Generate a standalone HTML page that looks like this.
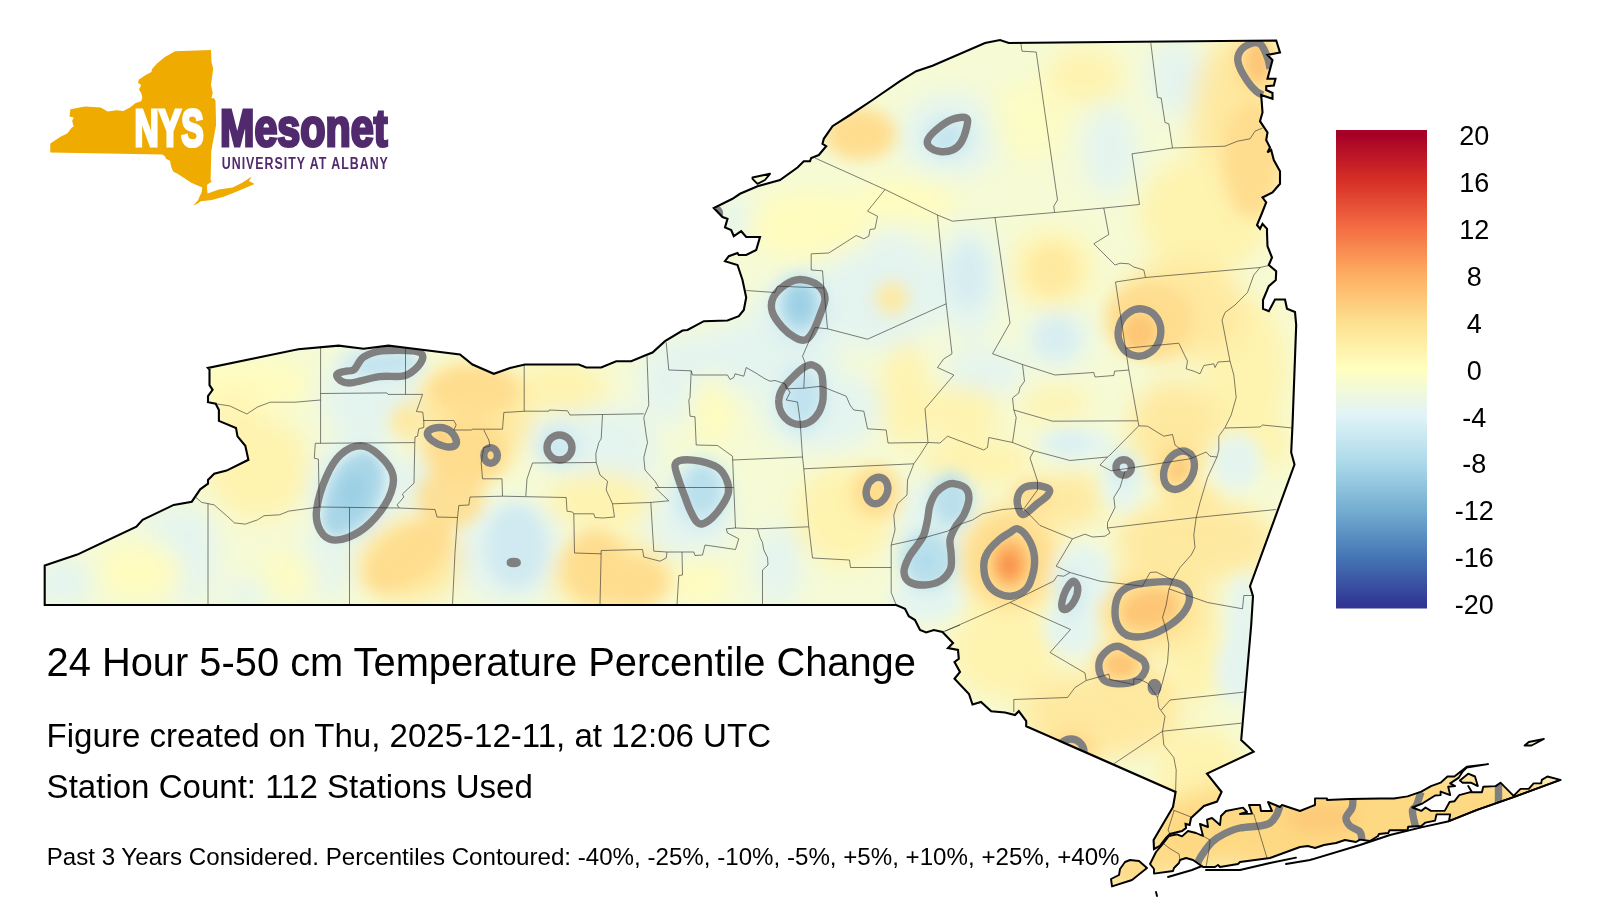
<!DOCTYPE html><html><head><meta charset="utf-8"><title>NYS Mesonet</title>
<style>html,body{margin:0;padding:0;background:#fff}svg{display:block}text{font-family:"Liberation Sans",Arial,Helvetica,sans-serif}</style></head><body>
<svg width="1600" height="900" viewBox="0 0 1600 900">
<defs>
<clipPath id="st"><path d="M44.7,605.0 L44.7,565.5 L77.3,554.6 L136.4,526.6 L142.6,519.8 L173.7,504.9 L191.8,501.7 L200.2,489.3 L208.0,483.7 L208.0,480.0 L214.2,473.7 L226.6,470.6 L248.4,459.8 L245.3,445.8 L237.5,436.4 L236.0,428.0 L218.9,420.9 L218.9,410.0 L215.7,403.8 L208.0,402.2 L208.0,396.0 L212.6,389.8 L209.5,385.1 L209.5,369.5 L208.0,368.0 L298.2,349.3 L338.6,345.6 L363.5,348.7 L388.4,345.6 L400.0,347.0 L460.0,354.5 L472.5,364.5 L493.8,373.8 L510.0,368.0 L525.0,364.5 L578.8,364.5 L586.2,367.5 L601.2,367.5 L616.2,361.2 L631.2,361.2 L646.2,355.0 L652.5,352.5 L665.0,341.2 L682.5,330.5 L687.5,330.0 L703.8,321.2 L727.5,320.5 L738.8,316.2 L743.8,310.0 L746.2,297.5 L742.5,280.0 L737.5,265.0 L725.0,261.2 L728.8,256.2 L737.5,253.0 L738.8,255.0 L746.2,255.0 L756.2,250.0 L760.0,237.0 L746.2,237.0 L741.2,231.2 L733.8,236.2 L731.2,230.0 L725.0,227.5 L727.5,218.8 L722.5,217.0 L713.8,208.0 L732.5,198.8 L740.0,193.8 L757.5,186.2 L780.0,180.0 L797.5,167.5 L803.8,161.2 L810.0,161.2 L811.2,158.0 L818.8,155.0 L826.2,146.2 L822.5,143.8 L823.8,138.8 L832.5,126.2 L850.0,115.0 L872.5,100.0 L900.0,81.2 L916.2,71.2 L932.5,65.8 L985.0,43.0 L1000.0,40.0 L1008.8,43.0 L1276.2,40.5 L1280.0,52.5 L1267.5,55.0 L1272.5,60.0 L1267.5,78.8 L1275.5,78.8 L1273.8,85.5 L1266.2,86.2 L1266.2,90.0 L1272.5,93.0 L1272.5,98.8 L1261.2,95.0 L1262.5,112.5 L1260.0,121.2 L1267.5,132.5 L1266.2,140.0 L1270.0,147.5 L1267.5,152.5 L1271.2,150.0 L1273.8,160.0 L1280.0,171.2 L1280.0,183.8 L1272.5,192.5 L1262.5,197.5 L1266.2,202.5 L1261.2,215.0 L1257.0,225.0 L1260.0,228.8 L1262.5,223.8 L1267.0,228.8 L1267.0,232.5 L1267.5,246.2 L1272.0,257.5 L1268.8,265.0 L1276.2,271.2 L1275.8,280.0 L1268.8,286.2 L1263.0,300.0 L1263.0,308.8 L1268.8,311.2 L1275.0,299.5 L1285.0,299.5 L1287.0,308.8 L1295.0,312.0 L1296.2,325.0 L1292.5,425.0 L1291.2,452.5 L1294.5,464.5 L1250.0,586.2 L1253.0,596.2 L1251.2,625.0 L1241.2,740.0 L1253.6,751.6 L1207.0,773.6 L1221.6,792.0 L1217.0,801.6 L1204.0,806.0 L1191.0,818.0 L1189.6,825.0 L1185.6,824.0 L1186.0,828.0 L1182.0,831.0 L1170.0,834.0 L1166.0,838.0 L1160.0,846.0 L1154.0,849.0 L1153.6,840.0 L1173.0,807.0 L1175.6,792.0 L1026.2,726.2 L1026.2,721.2 L1018.8,711.2 L1015.0,715.0 L1005.0,712.5 L991.2,711.2 L981.0,702.0 L972.5,704.5 L969.0,694.0 L954.5,678.8 L960.0,672.0 L954.5,662.0 L958.8,658.8 L958.0,650.0 L948.0,648.0 L953.0,643.0 L942.5,632.0 L933.8,630.0 L926.2,632.5 L920.0,630.0 L915.0,620.0 L908.8,616.2 L905.0,608.8 L896.2,605.0 Z M1150.0,864.0 L1156.0,852.0 L1162.0,845.0 L1169.0,836.0 L1177.0,834.4 L1182.0,836.4 L1188.0,831.0 L1196.0,833.0 L1203.0,836.0 L1200.0,824.0 L1208.0,827.0 L1207.0,819.6 L1212.0,818.0 L1220.0,825.0 L1221.0,816.0 L1226.0,811.0 L1243.0,807.6 L1247.0,812.0 L1240.0,814.0 L1252.0,813.6 L1249.0,805.0 L1260.0,805.0 L1261.0,811.0 L1272.0,811.0 L1268.0,802.0 L1280.0,807.0 L1282.0,805.0 L1300.0,811.0 L1315.0,805.0 L1315.0,798.4 L1327.0,798.4 L1327.0,800.0 L1350.0,799.0 L1380.0,798.5 L1393.8,798.5 L1407.5,796.4 L1421.3,791.6 L1431.0,786.1 L1440.6,782.7 L1447.5,776.5 L1454.4,776.5 L1466.8,766.8 L1488.1,764.1 L1466.8,767.5 L1462.6,771.7 L1458.5,777.9 L1450.2,783.4 L1455.1,786.1 L1448.2,786.8 L1450.2,795.1 L1440.6,791.6 L1440.6,795.1 L1435.1,795.5 L1422.7,803.3 L1412.4,807.5 L1421.3,810.9 L1425.5,807.5 L1431.0,810.9 L1444.7,810.9 L1449.6,802.0 L1454.4,801.3 L1459.2,795.1 L1469.5,792.3 L1481.9,792.3 L1483.3,786.8 L1495.7,786.1 L1500.5,782.7 L1513.6,795.8 L1520.5,788.9 L1528.8,788.9 L1533.6,783.4 L1541.2,783.4 L1541.8,779.9 L1547.4,776.5 L1560.4,779.9 L1513.6,797.1 L1476.4,810.2 L1448.9,821.2 L1450.2,814.4 L1436.5,814.4 L1435.1,820.6 L1425.5,822.6 L1421.3,826.0 L1408.2,826.7 L1407.5,830.2 L1389.6,830.2 L1388.3,833.0 L1379.0,834.0 L1378.0,836.0 L1370.0,841.0 L1360.0,839.6 L1356.0,842.0 L1345.0,840.0 L1336.0,843.0 L1324.0,845.0 L1315.0,848.0 L1308.0,846.0 L1300.0,847.0 L1270.0,858.0 L1240.0,862.0 L1238.0,864.0 L1220.0,867.0 L1218.0,865.0 L1215.0,867.0 L1203.0,867.0 L1193.0,860.0 L1186.0,858.0 L1180.0,860.0 L1179.0,863.0 L1174.0,868.0 L1173.0,871.0 L1154.0,873.6 L1154.0,869.0 Z M1111.0,879.0 L1119.0,875.0 L1120.0,869.0 L1125.0,862.0 L1130.0,860.0 L1139.0,861.0 L1147.0,868.0 L1132.0,880.0 L1112.0,886.4 Z M1459.9,780.6 L1468.2,773.7 L1475.0,776.5 L1477.8,786.1 L1470.9,782.7 L1462.6,782.7 Z M1524.6,745.5 L1528.8,742.0 L1543.9,739.0 L1531.5,745.5 Z M752.5,177.5 L770.0,173.8 L765.0,180.0 L757.5,183.8 L752.5,178.8 Z"/></clipPath>
<filter id="blA" x="-10%" y="-10%" width="120%" height="120%"><feGaussianBlur stdDeviation="12"/></filter>
<filter id="blB" x="-10%" y="-10%" width="120%" height="120%"><feGaussianBlur stdDeviation="8"/></filter>
<filter id="blC" x="-10%" y="-10%" width="120%" height="120%"><feGaussianBlur stdDeviation="5.5"/></filter>
<linearGradient id="cb" x1="0" y1="0" x2="0" y2="1">
<stop offset="0.0086" stop-color="rgb(165, 0, 38)"/>
<stop offset="0.1069" stop-color="rgb(215, 48, 39)"/>
<stop offset="0.2052" stop-color="rgb(244, 109, 67)"/>
<stop offset="0.3034" stop-color="rgb(253, 174, 97)"/>
<stop offset="0.4017" stop-color="rgb(254, 224, 144)"/>
<stop offset="0.5000" stop-color="rgb(255, 255, 191)"/>
<stop offset="0.5983" stop-color="rgb(224, 243, 248)"/>
<stop offset="0.6966" stop-color="rgb(171, 217, 233)"/>
<stop offset="0.7948" stop-color="rgb(116, 173, 209)"/>
<stop offset="0.8931" stop-color="rgb(69, 117, 180)"/>
<stop offset="0.9914" stop-color="rgb(49, 54, 149)"/>
</linearGradient>
</defs>
<rect width="1600" height="900" fill="#fff"/>
<g clip-path="url(#st)"><rect x="0" y="0" width="1600" height="900" fill="#f6fbd6"/>
<g filter="url(#blA)">
<ellipse cx="190" cy="555" rx="28" ry="50" fill="rgb(228, 244, 239)" opacity="1"/>
<ellipse cx="62" cy="582" rx="32" ry="24" fill="rgb(228, 244, 239)" opacity="1"/>
<ellipse cx="170" cy="522" rx="35" ry="16" fill="rgb(228, 244, 239)" opacity="0.8"/>
<ellipse cx="322" cy="566" rx="30" ry="34" fill="rgb(228, 244, 239)" opacity="1"/>
<ellipse cx="247" cy="594" rx="25" ry="14" fill="rgb(228, 244, 239)" opacity="1"/>
<ellipse cx="370" cy="395" rx="50" ry="45" fill="rgb(228, 244, 239)" opacity="1"/>
<ellipse cx="355" cy="490" rx="45" ry="55" fill="rgb(228, 244, 239)" opacity="1"/>
<ellipse cx="420" cy="482" rx="22" ry="30" fill="rgb(228, 244, 239)" opacity="1"/>
<ellipse cx="580" cy="440" rx="48" ry="36" fill="rgb(228, 244, 239)" opacity="1"/>
<ellipse cx="628" cy="455" rx="30" ry="50" fill="rgb(228, 244, 239)" opacity="1"/>
<ellipse cx="510" cy="552" rx="56" ry="52" fill="rgb(228, 244, 239)" opacity="1"/>
<ellipse cx="690" cy="380" rx="52" ry="46" fill="rgb(228, 244, 239)" opacity="1"/>
<ellipse cx="690" cy="520" rx="44" ry="40" fill="rgb(228, 244, 239)" opacity="1"/>
<ellipse cx="735" cy="360" rx="46" ry="36" fill="rgb(228, 244, 239)" opacity="1"/>
<ellipse cx="790" cy="340" rx="50" ry="55" fill="rgb(228, 244, 239)" opacity="1"/>
<ellipse cx="820" cy="410" rx="62" ry="42" fill="rgb(228, 244, 239)" opacity="1"/>
<ellipse cx="740" cy="220" rx="26" ry="22" fill="rgb(228, 244, 239)" opacity="1"/>
<ellipse cx="880" cy="290" rx="64" ry="62" fill="rgb(228, 244, 239)" opacity="1"/>
<ellipse cx="950" cy="135" rx="52" ry="42" fill="rgb(228, 244, 239)" opacity="1"/>
<ellipse cx="970" cy="282" rx="32" ry="58" fill="rgb(228, 244, 239)" opacity="1"/>
<ellipse cx="985" cy="372" rx="42" ry="24" fill="rgb(228, 244, 239)" opacity="1"/>
<ellipse cx="1058" cy="338" rx="34" ry="32" fill="rgb(228, 244, 239)" opacity="1"/>
<ellipse cx="1110" cy="150" rx="28" ry="46" fill="rgb(228, 244, 239)" opacity="1"/>
<ellipse cx="1176" cy="78" rx="28" ry="40" fill="rgb(228, 244, 239)" opacity="1"/>
<ellipse cx="778" cy="565" rx="24" ry="42" fill="rgb(228, 244, 239)" opacity="1"/>
<ellipse cx="940" cy="535" rx="44" ry="64" fill="rgb(228, 244, 239)" opacity="1"/>
<ellipse cx="140" cy="572" rx="44" ry="26" fill="rgb(255, 252, 190)" opacity="1"/>
<ellipse cx="290" cy="575" rx="30" ry="25" fill="rgb(255, 252, 190)" opacity="0.8"/>
<ellipse cx="250" cy="385" rx="62" ry="26" fill="rgb(255, 252, 190)" opacity="1"/>
<ellipse cx="258" cy="468" rx="52" ry="52" fill="rgb(254, 243, 175)" opacity="1"/>
<ellipse cx="232" cy="408" rx="24" ry="14" fill="rgb(254, 243, 175)" opacity="1"/>
<ellipse cx="560" cy="388" rx="48" ry="26" fill="rgb(254, 243, 175)" opacity="1"/>
<ellipse cx="600" cy="500" rx="54" ry="28" fill="rgb(254, 243, 175)" opacity="1"/>
<ellipse cx="712" cy="410" rx="22" ry="34" fill="rgb(255, 252, 190)" opacity="1"/>
<ellipse cx="700" cy="580" rx="26" ry="26" fill="rgb(255, 252, 190)" opacity="1"/>
<ellipse cx="810" cy="225" rx="64" ry="34" fill="rgb(255, 252, 190)" opacity="1"/>
<ellipse cx="905" cy="200" rx="52" ry="20" fill="rgb(255, 252, 190)" opacity="1"/>
<ellipse cx="1030" cy="120" rx="40" ry="40" fill="rgb(255, 252, 190)" opacity="0.7"/>
<ellipse cx="1052" cy="270" rx="42" ry="40" fill="rgb(254, 243, 175)" opacity="1"/>
<ellipse cx="1085" cy="76" rx="38" ry="28" fill="rgb(254, 243, 175)" opacity="1"/>
<ellipse cx="1236" cy="120" rx="44" ry="85" fill="rgb(254, 233, 160)" opacity="1"/>
<ellipse cx="1205" cy="215" rx="66" ry="60" fill="rgb(254, 243, 175)" opacity="1"/>
<ellipse cx="1245" cy="370" rx="42" ry="75" fill="rgb(254, 243, 175)" opacity="1"/>
<ellipse cx="1180" cy="310" rx="66" ry="50" fill="rgb(254, 233, 160)" opacity="1"/>
<ellipse cx="1175" cy="430" rx="46" ry="50" fill="rgb(254, 233, 160)" opacity="1"/>
<ellipse cx="960" cy="412" rx="40" ry="26" fill="rgb(254, 243, 175)" opacity="1"/>
<ellipse cx="905" cy="395" rx="24" ry="54" fill="rgb(254, 243, 175)" opacity="1"/>
<ellipse cx="978" cy="462" rx="58" ry="24" fill="rgb(254, 243, 175)" opacity="1"/>
<ellipse cx="1055" cy="405" rx="36" ry="22" fill="rgb(254, 243, 175)" opacity="0.8"/>
<ellipse cx="845" cy="515" rx="50" ry="50" fill="rgb(254, 243, 175)" opacity="1"/>
<ellipse cx="1010" cy="560" rx="54" ry="58" fill="rgb(254, 233, 160)" opacity="1"/>
<ellipse cx="1070" cy="500" rx="34" ry="28" fill="rgb(254, 233, 160)" opacity="1"/>
<ellipse cx="1195" cy="540" rx="80" ry="42" fill="rgb(254, 233, 160)" opacity="1"/>
<ellipse cx="1272" cy="445" rx="18" ry="26" fill="rgb(254, 243, 175)" opacity="1"/>
<ellipse cx="1005" cy="650" rx="54" ry="50" fill="rgb(254, 243, 175)" opacity="1"/>
<ellipse cx="1195" cy="660" rx="32" ry="44" fill="rgb(254, 243, 175)" opacity="1"/>
<ellipse cx="1150" cy="610" rx="66" ry="46" fill="rgb(254, 233, 160)" opacity="1"/>
<ellipse cx="1100" cy="715" rx="80" ry="44" fill="rgb(254, 233, 160)" opacity="1"/>
<ellipse cx="1200" cy="770" rx="44" ry="44" fill="rgb(254, 243, 175)" opacity="1"/>
<ellipse cx="1172" cy="822" rx="24" ry="26" fill="rgb(254, 233, 160)" opacity="1"/>
<ellipse cx="470" cy="420" rx="60" ry="55" fill="rgb(254, 233, 160)" opacity="1"/>
<ellipse cx="410" cy="560" rx="52" ry="42" fill="rgb(254, 233, 160)" opacity="1"/>
<ellipse cx="610" cy="575" rx="60" ry="36" fill="rgb(254, 233, 160)" opacity="1"/>
<ellipse cx="1395" cy="826" rx="250" ry="56" fill="rgb(254, 217, 131)" opacity="1"/>
<ellipse cx="1185" cy="852" rx="40" ry="24" fill="rgb(254, 217, 131)" opacity="1"/>
<ellipse cx="1130" cy="872" rx="30" ry="22" fill="rgb(254, 217, 131)" opacity="1"/>
</g>
<g filter="url(#blB)">
<ellipse cx="1082" cy="578" rx="30" ry="34" fill="rgb(228, 244, 239)" opacity="1"/>
<ellipse cx="1072" cy="628" rx="28" ry="28" fill="rgb(228, 244, 239)" opacity="1"/>
<ellipse cx="925" cy="600" rx="36" ry="22" fill="rgb(228, 244, 239)" opacity="1"/>
<ellipse cx="1243" cy="635" rx="16" ry="62" fill="rgb(228, 244, 239)" opacity="1"/>
<ellipse cx="1238" cy="670" rx="22" ry="34" fill="rgb(228, 244, 239)" opacity="1"/>
<ellipse cx="1237" cy="462" rx="24" ry="28" fill="rgb(228, 244, 239)" opacity="1"/>
<ellipse cx="1122" cy="482" rx="20" ry="28" fill="rgb(228, 244, 239)" opacity="1"/>
<ellipse cx="1075" cy="444" rx="38" ry="18" fill="rgb(228, 244, 239)" opacity="1"/>
<ellipse cx="383" cy="364" rx="42" ry="15" fill="rgb(206, 233, 241)" opacity="1"/>
<ellipse cx="354" cy="492" rx="32" ry="48" fill="rgb(206, 233, 241)" opacity="1" transform="rotate(24 354 492)"/>
<ellipse cx="558" cy="446" rx="20" ry="20" fill="rgb(206, 233, 241)" opacity="1"/>
<ellipse cx="516" cy="546" rx="30" ry="42" fill="rgb(206, 233, 241)" opacity="0.9"/>
<ellipse cx="702" cy="492" rx="28" ry="36" fill="rgb(206, 233, 241)" opacity="1"/>
<ellipse cx="802" cy="400" rx="24" ry="34" fill="rgb(206, 233, 241)" opacity="1"/>
<ellipse cx="800" cy="306" rx="28" ry="36" fill="rgb(206, 233, 241)" opacity="1"/>
<ellipse cx="948" cy="137" rx="24" ry="20" fill="rgb(206, 233, 241)" opacity="1"/>
<ellipse cx="968" cy="275" rx="20" ry="32" fill="rgb(206, 233, 241)" opacity="0.6"/>
<ellipse cx="1056" cy="338" rx="20" ry="20" fill="rgb(206, 233, 241)" opacity="0.6"/>
<ellipse cx="951" cy="500" rx="20" ry="27" fill="rgb(186, 224, 236)" opacity="1"/>
<ellipse cx="928" cy="560" rx="27" ry="29" fill="rgb(186, 224, 236)" opacity="1"/>
<ellipse cx="1070" cy="595" rx="12" ry="22" fill="rgb(206, 233, 241)" opacity="1"/>
<ellipse cx="1122" cy="466" rx="15" ry="15" fill="rgb(206, 233, 241)" opacity="0.9"/>
<ellipse cx="1068" cy="443" rx="18" ry="10" fill="rgb(206, 233, 241)" opacity="0.5"/>
<ellipse cx="406" cy="421" rx="16" ry="16" fill="rgb(254, 233, 160)" opacity="1"/>
<ellipse cx="474" cy="390" rx="46" ry="24" fill="rgb(254, 221, 143)" opacity="1"/>
<ellipse cx="467" cy="452" rx="40" ry="34" fill="rgb(254, 221, 143)" opacity="1"/>
<ellipse cx="450" cy="498" rx="34" ry="30" fill="rgb(254, 221, 143)" opacity="0.9"/>
<ellipse cx="408" cy="556" rx="50" ry="26" fill="rgb(254, 221, 143)" opacity="1" transform="rotate(-35 408 556)"/>
<ellipse cx="595" cy="566" rx="30" ry="36" fill="rgb(254, 221, 143)" opacity="1"/>
<ellipse cx="632" cy="582" rx="36" ry="24" fill="rgb(254, 221, 143)" opacity="1"/>
<ellipse cx="892" cy="298" rx="16" ry="16" fill="rgb(254, 233, 160)" opacity="1"/>
<ellipse cx="860" cy="134" rx="36" ry="26" fill="rgb(254, 221, 143)" opacity="1"/>
<ellipse cx="1052" cy="270" rx="24" ry="24" fill="rgb(254, 233, 160)" opacity="1"/>
<ellipse cx="1252" cy="160" rx="30" ry="58" fill="rgb(254, 221, 143)" opacity="1"/>
<ellipse cx="1256" cy="62" rx="22" ry="32" fill="rgb(254, 221, 143)" opacity="1"/>
<ellipse cx="1150" cy="320" rx="44" ry="38" fill="rgb(254, 221, 143)" opacity="1"/>
<ellipse cx="876" cy="492" rx="24" ry="26" fill="rgb(254, 221, 143)" opacity="1"/>
<ellipse cx="1033" cy="496" rx="20" ry="16" fill="rgb(254, 221, 143)" opacity="1"/>
<ellipse cx="1176" cy="468" rx="20" ry="26" fill="rgb(254, 221, 143)" opacity="1"/>
<ellipse cx="1190" cy="502" rx="28" ry="20" fill="rgb(254, 233, 160)" opacity="1"/>
<ellipse cx="1010" cy="560" rx="42" ry="46" fill="rgb(254, 221, 143)" opacity="1"/>
<ellipse cx="1148" cy="609" rx="42" ry="30" fill="rgb(254, 221, 143)" opacity="1"/>
<ellipse cx="1121" cy="664" rx="28" ry="22" fill="rgb(254, 221, 143)" opacity="1"/>
<ellipse cx="1150" cy="695" rx="24" ry="24" fill="rgb(254, 233, 160)" opacity="1"/>
<ellipse cx="1072" cy="748" rx="26" ry="20" fill="rgb(254, 221, 143)" opacity="1"/>
<ellipse cx="1322" cy="818" rx="36" ry="15" fill="rgb(253, 198, 118)" opacity="0.8"/>
</g>
<g filter="url(#blC)">
<ellipse cx="354" cy="492" rx="24" ry="40" fill="rgb(168, 214, 231)" opacity="1" transform="rotate(24 354 492)"/>
<ellipse cx="336" cy="520" rx="13" ry="16" fill="rgb(168, 214, 231)" opacity="0.9"/>
<ellipse cx="352" cy="492" rx="12" ry="18" fill="rgb(150, 204, 227)" opacity="0.6" transform="rotate(22 352 492)"/>
<ellipse cx="385" cy="364" rx="30" ry="8" fill="rgb(186, 224, 236)" opacity="0.6" transform="rotate(-8 385 364)"/>
<ellipse cx="441" cy="437" rx="9" ry="5" fill="rgb(253, 198, 118)" opacity="0.9" transform="rotate(25 441 437)"/>
<ellipse cx="490.5" cy="455.5" rx="5" ry="6" fill="rgb(253, 198, 118)" opacity="0.9"/>
<ellipse cx="702" cy="490" rx="16" ry="22" fill="rgb(186, 224, 236)" opacity="1"/>
<ellipse cx="800" cy="305" rx="17" ry="23" fill="rgb(168, 214, 231)" opacity="1"/>
<ellipse cx="800" cy="304" rx="9" ry="12" fill="rgb(150, 204, 227)" opacity="0.7"/>
<ellipse cx="803" cy="396" rx="13" ry="22" fill="rgb(186, 224, 236)" opacity="0.7"/>
<ellipse cx="947" cy="138" rx="11" ry="8" fill="rgb(186, 224, 236)" opacity="0.5" transform="rotate(-35 947 138)"/>
<ellipse cx="1258" cy="62" rx="11" ry="20" fill="rgb(253, 198, 118)" opacity="1"/>
<ellipse cx="1139.5" cy="332.5" rx="16" ry="18" fill="rgb(253, 198, 118)" opacity="1"/>
<ellipse cx="1179" cy="470" rx="8" ry="13" fill="rgb(253, 198, 118)" opacity="0.8" transform="rotate(25 1179 470)"/>
<ellipse cx="927" cy="560" rx="15" ry="16" fill="rgb(186, 224, 236)" opacity="1"/>
<ellipse cx="926" cy="562" rx="8" ry="9" fill="rgb(168, 214, 231)" opacity="0.6"/>
<ellipse cx="952" cy="500" rx="10" ry="15" fill="rgb(186, 224, 236)" opacity="0.7"/>
<ellipse cx="1010" cy="563" rx="19" ry="24" fill="rgb(253, 184, 104)" opacity="1"/>
<ellipse cx="1009" cy="565" rx="10" ry="13" fill="rgb(249, 148, 78)" opacity="1"/>
<ellipse cx="1150" cy="609" rx="28" ry="18" fill="rgb(253, 198, 118)" opacity="1" transform="rotate(-15 1150 609)"/>
<ellipse cx="1121" cy="665" rx="16" ry="12" fill="rgb(253, 198, 118)" opacity="1"/>
<ellipse cx="1071" cy="752" rx="8" ry="8" fill="rgb(253, 198, 118)" opacity="0.8"/>
</g>
</g>
<g clip-path="url(#st)"><g fill="none" stroke="#808080" stroke-width="7.4" stroke-linecap="butt" stroke-linejoin="round">
<path d="M360.4,445.8 C366.9,445.8 373.6,450.1 379.0,455.0 C384.4,459.9 391.4,468.0 393.0,475.3 C394.6,482.6 392.3,490.6 388.4,498.6 C384.5,506.6 376.4,517.0 369.7,523.5 C363.0,530.0 354.7,534.9 348.0,537.5 C341.3,540.1 334.2,540.8 329.3,539.0 C324.4,537.2 320.5,531.8 318.4,526.6 C316.3,521.4 315.5,516.3 316.8,508.0 C318.1,499.7 322.3,485.7 326.2,476.9 C330.1,468.1 334.5,460.2 340.2,455.0 C345.9,449.8 353.9,445.8 360.4,445.8 Z"/>
<path d="M337.0,374.2 C338.0,372.6 343.5,371.9 346.4,371.1 C349.3,370.3 351.3,371.8 354.2,369.5 C357.1,367.2 358.9,360.2 363.5,357.1 C368.1,354.0 373.8,351.9 382.1,350.9 C390.4,349.9 406.4,350.1 413.2,350.9 C419.9,351.7 421.8,353.0 422.6,355.6 C423.4,358.2 421.0,363.0 417.9,366.4 C414.8,369.8 410.4,374.1 403.9,375.8 C397.4,377.5 387.8,375.5 379.0,376.7 C370.2,377.9 357.5,382.3 351.0,382.9 C344.5,383.5 342.5,381.8 340.2,380.4 C337.9,378.9 336.0,375.8 337.0,374.2 Z"/>
<path d="M427.5,432.5 C428.3,430.7 431.9,428.6 435.0,428.0 C438.1,427.4 443.1,427.6 446.2,428.8 C449.4,429.9 452.1,432.5 453.8,435.0 C455.4,437.5 457.1,441.8 456.2,443.8 C455.4,445.8 451.9,447.0 448.8,447.0 C445.6,447.0 440.6,445.1 437.5,443.8 C434.4,442.4 431.7,440.6 430.0,438.8 C428.3,436.9 426.7,434.3 427.5,432.5 Z"/>
<ellipse cx="490.6" cy="455.4" rx="6.8" ry="7.8" transform="rotate(0 490.6 455.4)"/>
<ellipse cx="559.5" cy="447.5" rx="12.5" ry="12.5" transform="rotate(0 559.5 447.5)"/>
<path d="M675.0,465.0 C675.6,461.7 678.3,460.6 682.5,460.0 C686.7,459.4 694.2,460.0 700.0,461.2 C705.8,462.5 713.1,464.6 717.5,467.5 C721.9,470.4 724.4,474.7 726.2,478.8 C728.1,482.8 729.1,487.6 728.5,492.0 C727.9,496.4 725.2,500.8 722.5,505.0 C719.8,509.2 715.8,514.4 712.5,517.5 C709.2,520.6 705.2,523.1 702.5,523.8 C699.8,524.4 698.3,523.5 696.2,521.2 C694.2,519.0 691.9,514.0 690.0,510.0 C688.1,506.0 686.9,502.0 685.0,497.0 C683.1,492.0 680.4,485.3 678.8,480.0 C677.1,474.7 674.4,468.3 675.0,465.0 Z"/>
<path d="M800.0,279.5 C805.4,279.5 813.3,281.9 817.5,285.0 C821.7,288.1 824.6,293.0 825.0,298.0 C825.4,303.0 822.1,309.2 820.0,315.0 C817.9,320.8 815.0,328.3 812.5,332.5 C810.0,336.7 807.9,339.2 805.0,340.0 C802.1,340.8 798.8,339.6 795.0,337.5 C791.2,335.4 786.2,331.7 782.5,327.5 C778.8,323.3 774.1,317.4 772.5,312.5 C770.9,307.6 770.9,302.6 773.0,298.0 C775.1,293.4 780.5,288.1 785.0,285.0 C789.5,281.9 794.6,279.5 800.0,279.5 Z"/>
<path d="M812.5,365.0 C815.4,365.8 819.5,368.8 821.2,372.5 C823.0,376.2 822.8,382.5 823.0,387.5 C823.2,392.5 823.6,397.7 822.5,402.5 C821.4,407.3 819.2,412.7 816.2,416.2 C813.3,419.8 809.2,422.7 805.0,423.8 C800.8,424.8 795.2,424.4 791.2,422.5 C787.3,420.6 783.3,416.2 781.2,412.5 C779.2,408.8 778.5,404.0 778.8,400.0 C779.0,396.0 780.2,392.5 782.5,388.8 C784.8,385.0 789.0,381.0 792.5,377.5 C796.0,374.0 800.4,369.6 803.8,367.5 C807.1,365.4 809.6,364.2 812.5,365.0 Z"/>
<path d="M966.2,118.0 C968.7,119.4 967.4,123.9 966.5,128.0 C965.6,132.1 963.3,138.8 961.0,142.5 C958.7,146.2 956.0,148.5 952.5,150.0 C949.0,151.5 943.8,151.9 940.0,151.5 C936.2,151.1 932.1,149.3 930.0,147.5 C927.9,145.7 926.5,143.4 927.5,140.5 C928.5,137.6 931.9,133.5 936.0,130.0 C940.1,126.5 947.0,121.5 952.0,119.5 C957.0,117.5 963.8,116.6 966.2,118.0 Z"/>
<path d="M1262.5,95.0 C1261.5,94.4 1258.8,93.5 1256.2,91.2 C1253.8,89.0 1250.4,85.6 1247.5,81.2 C1244.6,76.9 1240.2,69.6 1238.8,65.0 C1237.3,60.4 1237.3,57.1 1238.8,53.8 C1240.2,50.4 1244.0,46.7 1247.5,45.0 C1251.0,43.3 1256.7,41.7 1260.0,43.8 C1263.3,45.8 1265.8,53.3 1267.5,57.5 C1269.2,61.7 1269.6,66.9 1270.0,68.8"/>
<ellipse cx="1139.5" cy="332.5" rx="21.25" ry="23.75" transform="rotate(12 1139.5 332.5)"/>
<ellipse cx="1123.7" cy="467.4" rx="7.7" ry="7.7" transform="rotate(0 1123.7 467.4)"/>
<ellipse cx="1179" cy="470.2" rx="14.2" ry="20.1" transform="rotate(25 1179 470.2)"/>
<path d="M1017.5,497.5 C1018.3,494.0 1020.4,490.0 1023.5,488.0 C1026.6,486.0 1031.8,485.4 1036.0,485.5 C1040.2,485.6 1046.8,487.1 1048.8,488.8 C1050.7,490.4 1049.4,493.0 1047.5,495.5 C1045.6,498.0 1041.5,500.3 1037.5,503.5 C1033.5,506.7 1026.9,513.6 1023.8,514.5 C1020.6,515.4 1019.8,511.8 1018.8,509.0 C1017.7,506.2 1016.7,501.0 1017.5,497.5 Z"/>
<ellipse cx="877" cy="490.5" rx="10.5" ry="13.5" transform="rotate(20 877 490.5)"/>
<path d="M955.0,483.8 C958.3,484.4 964.0,486.0 966.2,488.8 C968.5,491.5 969.2,495.6 968.8,500.0 C968.3,504.4 966.0,510.4 963.8,515.0 C961.5,519.6 957.3,523.3 955.0,527.5 C952.7,531.7 950.6,535.4 950.0,540.0 C949.4,544.6 951.2,550.2 951.2,555.0 C951.3,559.8 952.2,564.8 950.5,569.0 C948.8,573.2 945.2,577.8 941.0,580.5 C936.8,583.2 930.2,584.8 925.0,585.0 C919.8,585.2 913.0,584.2 909.5,582.0 C906.0,579.8 904.1,576.1 904.0,572.0 C903.9,567.9 906.5,562.0 908.8,557.5 C911.0,553.0 915.0,548.8 917.5,545.0 C920.0,541.2 922.1,539.2 923.8,535.0 C925.4,530.8 926.5,525.0 927.5,520.0 C928.5,515.0 928.5,509.6 930.0,505.0 C931.5,500.4 933.5,495.8 936.2,492.5 C939.0,489.2 943.1,486.5 946.2,485.0 C949.4,483.5 951.7,483.1 955.0,483.8 Z"/>
<path d="M1017.5,528.8 C1020.4,529.6 1024.8,533.5 1027.5,537.5 C1030.2,541.5 1032.7,547.1 1033.8,552.5 C1034.8,557.9 1034.9,564.1 1033.8,570.0 C1032.6,575.9 1030.5,583.7 1027.0,588.0 C1023.5,592.3 1017.4,595.2 1012.5,596.0 C1007.6,596.8 1001.8,595.3 997.5,593.0 C993.2,590.7 989.3,586.7 987.0,582.0 C984.7,577.3 983.7,569.9 983.8,565.0 C983.8,560.1 985.0,556.7 987.5,552.5 C990.0,548.3 995.0,543.3 998.8,540.0 C1002.5,536.7 1006.9,534.4 1010.0,532.5 C1013.1,530.6 1014.6,527.9 1017.5,528.8 Z"/>
<path d="M1074.5,581.5 C1076.0,582.2 1077.8,585.8 1077.8,589.0 C1077.8,592.2 1076.3,597.2 1074.5,600.5 C1072.7,603.8 1069.1,607.8 1067.0,609.0 C1064.9,610.2 1062.6,609.7 1062.0,607.5 C1061.4,605.3 1062.3,599.8 1063.5,596.0 C1064.7,592.2 1067.2,587.4 1069.0,585.0 C1070.8,582.6 1073.0,580.8 1074.5,581.5 Z"/>
<path d="M1118.8,595.0 C1121.2,590.6 1124.8,588.3 1130.0,586.2 C1135.2,584.2 1142.9,583.2 1150.0,582.5 C1157.1,581.8 1166.7,581.2 1172.5,582.0 C1178.3,582.8 1182.2,584.7 1185.0,587.5 C1187.8,590.3 1189.7,594.6 1189.5,598.8 C1189.3,602.9 1187.0,608.1 1183.8,612.5 C1180.5,616.9 1175.6,621.2 1170.0,625.0 C1164.4,628.8 1156.7,633.1 1150.0,635.0 C1143.3,636.9 1135.2,637.5 1130.0,636.2 C1124.8,635.0 1121.2,631.5 1118.8,627.5 C1116.2,623.5 1115.0,617.9 1115.0,612.5 C1115.0,607.1 1116.2,599.4 1118.8,595.0 Z"/>
<path d="M1098.8,666.2 C1098.8,661.9 1100.6,657.1 1103.8,653.8 C1106.9,650.4 1112.7,646.2 1117.5,646.2 C1122.3,646.2 1128.1,651.2 1132.5,653.8 C1136.9,656.2 1141.7,658.3 1143.8,661.2 C1145.8,664.2 1146.5,667.9 1145.0,671.2 C1143.5,674.6 1139.6,679.2 1135.0,681.2 C1130.4,683.3 1122.7,684.0 1117.5,683.8 C1112.3,683.5 1106.9,682.9 1103.8,680.0 C1100.6,677.1 1098.8,670.6 1098.8,666.2 Z"/>
<ellipse cx="1154.5" cy="687" rx="3.3" ry="4.6" fill="#808080" transform="rotate(0 1154.5 687)"/>
<ellipse cx="1071" cy="752" rx="13" ry="13" transform="rotate(0 1071 752)"/>
<ellipse cx="513.75" cy="562.5" rx="3.5" ry="1" fill="#808080" transform="rotate(0 513.75 562.5)"/>
<ellipse cx="714.5" cy="213.5" rx="5" ry="5" transform="rotate(0 714.5 213.5)"/>
<path d="M1197.0,866.0 C1197.3,865.0 1197.8,862.3 1199.0,860.0 C1200.2,857.7 1201.8,855.0 1204.0,852.0 C1206.2,849.0 1208.7,845.0 1212.0,842.0 C1215.3,839.0 1219.3,836.3 1224.0,834.0 C1228.7,831.7 1234.0,829.3 1240.0,828.0 C1246.0,826.7 1255.0,826.8 1260.0,826.0 C1265.0,825.2 1267.3,824.7 1270.0,823.0 C1272.7,821.3 1274.3,818.8 1276.0,816.0 C1277.7,813.2 1279.3,807.7 1280.0,806.0"/>
<path d="M1353.0,798.0 C1352.8,799.7 1353.2,804.7 1352.0,808.0 C1350.8,811.3 1346.3,815.0 1346.0,818.0 C1345.7,821.0 1347.7,823.7 1350.0,826.0 C1352.3,828.3 1358.0,829.3 1360.0,832.0 C1362.0,834.7 1361.7,840.3 1362.0,842.0"/>
<path d="M1421.0,792.0 C1420.2,794.2 1417.9,802.2 1416.5,805.4 C1415.1,808.6 1412.5,807.2 1412.4,811.0 C1412.3,814.8 1415.2,825.2 1415.8,828.0"/>
<path d="M1498.5,784.0 C1498.5,787.2 1498.5,799.8 1498.5,803.0"/>
</g></g>
<g fill="none" stroke="#2a2a2a" stroke-width="0.6" stroke-linejoin="round">
<path d="M215.7,403.8 L229.7,405.9 L246.8,414.0 L257.7,406.9 L270.2,402.2 L295.0,402.2 L320.6,400.0"/>
<path d="M320.6,346.8 L320.6,443.3"/>
<path d="M320.6,393.5 L386.8,392.9 L388.0,394.4 L422.6,394.4"/>
<path d="M405.5,347.8 L405.5,394.4"/>
<path d="M422.6,394.4 L416.4,411.5 L422.8,412.2 L423.8,421.2 L423.8,427.5 L418.8,428.8 L417.5,436.2 L415.0,437.0 L414.8,442.6"/>
<path d="M315.3,443.3 L414.8,442.6"/>
<path d="M315.3,443.3 L314.3,458.2 L318.4,459.1 L319.3,507.0"/>
<path d="M414.8,442.6 L414.0,483.1 L402.4,494.0 L403.9,497.0 L397.1,504.9 L399.3,508.0"/>
<path d="M319.3,507.0 L399.3,508.0 L435.0,509.5 L437.0,517.0 L457.5,517.5"/>
<path d="M195.5,497.1 L201.7,502.4 L214.2,504.9 L226.6,515.7 L234.4,522.9 L245.3,524.1 L257.7,519.8 L264.0,515.7 L279.5,514.8 L288.8,511.1 L319.3,507.0"/>
<path d="M208.0,503.3 L208.0,605.0"/>
<path d="M349.5,507.3 L349.5,605.0"/>
<path d="M423.2,420.5 L453.8,420.5 L456.2,425.0 L453.8,430.0 L471.2,430.0 L472.5,429.2 L502.5,429.2 L503.8,412.5 L525.0,411.2 L548.8,411.2 L549.2,410.0 L567.5,410.8 L570.0,415.0 L602.5,414.5 L643.8,413.8"/>
<path d="M524.2,364.5 L524.2,411.2"/>
<path d="M483.8,430.0 L488.8,440.0 L490.0,446.2 L483.8,447.5 L481.2,462.5 L482.5,478.8 L502.0,478.8 L502.5,496.2"/>
<path d="M602.5,414.5 L601.2,438.8 L598.8,442.5 L595.8,453.8 L596.2,462.5 L532.5,463.0 L530.0,470.0 L527.0,478.8 L525.8,496.2"/>
<path d="M596.2,462.5 L600.0,475.0 L607.5,481.2 L606.2,490.0 L612.5,503.8 L614.5,517.0 L602.5,518.0 L595.0,517.5 L593.8,513.8 L573.8,513.8 L572.5,512.0 L567.0,511.2 L566.2,497.5 L502.5,496.2 L470.0,497.0 L468.8,505.0 L458.8,505.5 L457.5,517.5 L455.0,552.5 L452.5,604.5"/>
<path d="M612.5,503.8 L650.0,502.5 L668.8,500.8 L655.0,487.5 L733.8,487.5"/>
<path d="M647.0,356.2 L648.8,405.0 L643.8,417.5 L646.2,435.0 L647.5,442.5 L643.8,457.5 L645.0,470.0 L655.0,481.2 L658.8,487.5"/>
<path d="M666.2,342.5 L668.8,370.0 L691.2,370.8 L692.5,375.0 L727.5,375.0 L730.0,379.5 L733.8,377.5 L735.0,373.8 L743.8,376.2 L746.2,367.5 L755.0,372.5 L765.0,378.8 L770.0,381.2 L775.0,380.5 L785.0,383.8 L786.2,388.8 L803.8,388.2 L821.2,386.2 L846.2,396.2 L850.0,405.0 L853.8,410.0 L863.8,411.2 L867.5,428.8 L886.2,430.0 L888.0,443.0 L927.5,442.5"/>
<path d="M691.2,370.8 L690.0,397.5 L688.8,400.0 L690.0,416.2 L695.0,416.8 L696.2,445.0 L717.5,445.5 L732.5,456.2 L733.8,487.5 L735.5,528.0"/>
<path d="M732.5,460.0 L802.5,457.0"/>
<path d="M785.0,383.8 L790.0,392.5 L786.2,400.0 L797.5,402.0 L800.0,420.0 L802.5,457.0 L803.8,468.8 L808.8,526.8 L812.5,558.0 L849.5,560.0 L850.5,567.5 L891.2,567.5"/>
<path d="M573.8,513.8 L574.5,553.0 L601.2,553.8"/>
<path d="M600.0,604.5 L601.2,550.5 L642.5,549.5 L643.8,557.0 L660.0,561.2 L666.2,558.0 L667.0,552.0 L682.0,552.0"/>
<path d="M650.8,502.5 L653.8,551.2 L667.0,552.0"/>
<path d="M682.0,552.0 L682.5,575.0 L678.8,575.5 L677.0,604.5"/>
<path d="M735.5,528.0 L726.2,528.8 L727.5,533.0 L738.8,538.8 L735.5,549.5 L705.0,545.0 L702.5,555.0 L695.0,555.5 L693.8,552.0 L682.0,552.0"/>
<path d="M735.5,528.0 L757.5,528.8 L808.8,526.8"/>
<path d="M757.5,528.8 L760.0,537.5 L762.5,542.5 L763.8,550.0 L767.5,557.5 L768.0,565.0 L762.5,570.0 L762.5,604.5"/>
<path d="M815.0,158.0 L885.0,189.5 L937.5,215.0 L952.5,221.2 L995.0,217.5 L1054.5,212.5 L1103.8,208.0 L1139.5,204.5 L1132.0,153.8 L1172.5,148.0"/>
<path d="M1020.8,43.0 L1022.0,51.2 L1036.2,52.0 L1057.5,200.0 L1053.8,206.2 L1054.5,212.5"/>
<path d="M1150.8,43.0 L1157.5,97.5 L1161.2,98.0 L1165.0,122.5 L1168.8,123.8 L1172.5,148.0 L1225.0,146.2 L1237.5,141.2 L1250.0,138.8 L1255.0,131.2 L1262.5,128.0"/>
<path d="M885.0,189.5 L867.5,211.2 L877.5,216.2 L875.0,228.8 L870.0,229.5 L868.8,236.2 L863.8,238.8 L856.2,235.5 L828.8,253.0 L811.2,253.8 L811.2,270.0 L822.5,270.8 L823.8,287.5 L827.5,328.8 L815.0,327.5 L802.5,356.2 L805.0,362.5 L803.8,388.2"/>
<path d="M746.2,290.5 L775.0,292.5 L777.5,286.2 L823.8,288.0"/>
<path d="M827.5,328.8 L867.5,339.2 L946.2,303.8"/>
<path d="M937.5,215.0 L946.2,303.8 L952.0,353.8 L943.8,358.8 L937.5,367.5 L953.8,375.0 L925.0,408.8 L928.0,442.5 L920.0,455.0 L913.8,463.8 L907.5,480.0 L907.0,495.0 L897.5,503.8 L893.8,515.0 L895.0,530.0 L891.2,545.0 L891.2,592.5 L896.2,605.0"/>
<path d="M803.8,468.8 L913.8,463.8"/>
<path d="M995.0,217.5 L1010.0,323.0 L992.5,353.8 L1022.5,364.5 L1055.0,375.0 L1093.8,372.5 L1095.0,377.0 L1113.8,375.5 L1114.5,371.2 L1128.8,370.0"/>
<path d="M1103.8,208.0 L1108.8,234.5 L1093.8,243.8 L1115.0,265.0 L1120.0,263.2 L1128.8,263.8 L1133.8,267.0 L1143.8,270.0 L1145.5,277.5"/>
<path d="M1115.5,282.0 L1145.5,277.5 L1260.0,267.5 L1268.8,265.5"/>
<path d="M1115.5,282.0 L1128.8,370.0 L1138.8,425.8"/>
<path d="M1260.0,267.5 L1253.8,275.0 L1247.5,292.5 L1235.0,305.0 L1225.0,312.5 L1222.0,320.0 L1230.0,361.2 L1233.8,375.0 L1236.2,397.5 L1231.2,415.0 L1225.0,427.5 L1218.8,436.2 L1218.8,450.0 L1217.0,457.0 L1207.5,477.5 L1200.0,502.5 L1196.2,517.5 L1193.8,535.0 L1195.0,547.5 L1191.2,555.0 L1180.0,567.5 L1172.5,580.0 L1168.8,590.0 L1166.2,605.0 L1162.5,617.5 L1166.2,630.0 L1168.8,645.0 L1167.5,662.5 L1162.5,682.5 L1157.5,697.5 L1158.8,707.5 L1165.0,716.2 L1162.5,731.2 L1163.8,745.0 L1173.8,757.5 L1176.2,770.0 L1175.6,792.0"/>
<path d="M1126.2,348.2 L1178.8,343.2 L1187.5,361.2 L1186.2,368.8 L1193.8,371.2 L1200.0,373.8 L1203.8,365.5 L1213.8,363.8 L1215.0,367.5 L1218.0,362.0 L1230.0,361.2"/>
<path d="M1022.5,364.5 L1024.5,381.2 L1020.0,387.5 L1018.8,393.0 L1012.5,398.0 L1013.8,410.0 L1052.5,421.2 L1137.5,420.8"/>
<path d="M1013.8,410.0 L1016.2,417.5 L1012.5,442.5"/>
<path d="M928.0,442.5 L940.0,443.0 L947.5,436.2 L983.8,450.0 L987.5,447.5 L988.8,437.5 L1012.5,442.5 L1033.8,450.8 L1070.0,460.5 L1107.5,457.0 L1110.0,455.0 L1138.8,425.8 L1147.5,426.2 L1163.8,436.2 L1172.5,434.5 L1175.0,445.0 L1185.0,452.5 L1192.5,457.5"/>
<path d="M1225.0,428.0 L1260.0,427.0 L1262.5,425.0 L1292.5,428.0"/>
<path d="M1107.5,457.0 L1100.0,465.0 L1111.2,470.8 L1123.8,469.0 L1190.0,458.8 L1206.2,452.0 L1210.0,456.2 L1217.0,457.0"/>
<path d="M1107.5,528.0 L1196.2,517.5 L1276.2,509.5"/>
<path d="M1033.8,450.8 L1030.0,458.0 L1037.5,481.0 L1037.5,490.0 L1023.8,508.8 L1040.0,525.5 L1072.5,538.8 L1085.0,534.2 L1092.5,537.0 L1105.0,536.2 L1110.0,533.0 L1107.5,528.0 L1107.5,522.5 L1115.0,507.5 L1113.8,497.5 L1120.0,487.5 L1125.0,471.2"/>
<path d="M891.2,545.0 L925.0,537.5 L947.5,531.2 L961.2,523.8 L972.5,520.0 L982.5,513.8 L1002.5,509.5 L1015.0,508.5 L1023.8,508.8"/>
<path d="M1072.5,538.8 L1056.2,566.2 L1070.0,572.5 L1100.0,581.2 L1142.5,586.2 L1150.0,572.5 L1156.2,572.0 L1172.5,580.0"/>
<path d="M1070.0,572.5 L1063.8,576.2 L1057.5,575.5 L1053.8,581.0 L1010.0,602.5 L945.0,631.2"/>
<path d="M1010.0,602.5 L1070.5,629.5 L1050.0,652.5 L1085.0,673.0 L1086.2,680.5 L1075.0,687.5 L1067.5,697.5 L1013.8,699.5 L1013.8,712.0"/>
<path d="M1086.2,680.5 L1108.8,674.2 L1110.0,679.5 L1133.8,684.5 L1133.8,678.8 L1140.0,679.5 L1147.5,683.0 L1157.5,697.5"/>
<path d="M1168.8,588.8 L1207.5,602.5 L1242.5,608.8 L1243.8,595.5 L1252.5,595.5"/>
<path d="M1161.2,710.0 L1170.0,700.0 L1245.0,692.0"/>
<path d="M1162.5,731.2 L1241.2,723.2"/>
<path d="M1113.8,763.8 L1162.5,731.2"/>
<path d="M942.5,632.0 L960.0,625.0"/>
<path d="M1173.0,810.0 L1191.0,817.0"/>
<path d="M1174.0,811.0 L1168.0,830.0 L1170.0,834.0"/>
<path d="M1164.0,844.0 L1169.0,848.0 L1179.0,854.0 L1180.0,860.0"/>
<path d="M1203.0,836.0 L1210.0,840.0 L1209.0,850.0 L1206.0,867.0"/>
<path d="M1253.6,813.6 L1267.0,858.0"/>
</g>
<g fill="none" stroke="#000" stroke-width="2.1" stroke-linejoin="miter" stroke-miterlimit="3">
<path d="M44.7,605.0 L44.7,565.5 L77.3,554.6 L136.4,526.6 L142.6,519.8 L173.7,504.9 L191.8,501.7 L200.2,489.3 L208.0,483.7 L208.0,480.0 L214.2,473.7 L226.6,470.6 L248.4,459.8 L245.3,445.8 L237.5,436.4 L236.0,428.0 L218.9,420.9 L218.9,410.0 L215.7,403.8 L208.0,402.2 L208.0,396.0 L212.6,389.8 L209.5,385.1 L209.5,369.5 L208.0,368.0 L298.2,349.3 L338.6,345.6 L363.5,348.7 L388.4,345.6 L400.0,347.0 L460.0,354.5 L472.5,364.5 L493.8,373.8 L510.0,368.0 L525.0,364.5 L578.8,364.5 L586.2,367.5 L601.2,367.5 L616.2,361.2 L631.2,361.2 L646.2,355.0 L652.5,352.5 L665.0,341.2 L682.5,330.5 L687.5,330.0 L703.8,321.2 L727.5,320.5 L738.8,316.2 L743.8,310.0 L746.2,297.5 L742.5,280.0 L737.5,265.0 L725.0,261.2 L728.8,256.2 L737.5,253.0 L738.8,255.0 L746.2,255.0 L756.2,250.0 L760.0,237.0 L746.2,237.0 L741.2,231.2 L733.8,236.2 L731.2,230.0 L725.0,227.5 L727.5,218.8 L722.5,217.0 L713.8,208.0 L732.5,198.8 L740.0,193.8 L757.5,186.2 L780.0,180.0 L797.5,167.5 L803.8,161.2 L810.0,161.2 L811.2,158.0 L818.8,155.0 L826.2,146.2 L822.5,143.8 L823.8,138.8 L832.5,126.2 L850.0,115.0 L872.5,100.0 L900.0,81.2 L916.2,71.2 L932.5,65.8 L985.0,43.0 L1000.0,40.0 L1008.8,43.0 L1276.2,40.5 L1280.0,52.5 L1267.5,55.0 L1272.5,60.0 L1267.5,78.8 L1275.5,78.8 L1273.8,85.5 L1266.2,86.2 L1266.2,90.0 L1272.5,93.0 L1272.5,98.8 L1261.2,95.0 L1262.5,112.5 L1260.0,121.2 L1267.5,132.5 L1266.2,140.0 L1270.0,147.5 L1267.5,152.5 L1271.2,150.0 L1273.8,160.0 L1280.0,171.2 L1280.0,183.8 L1272.5,192.5 L1262.5,197.5 L1266.2,202.5 L1261.2,215.0 L1257.0,225.0 L1260.0,228.8 L1262.5,223.8 L1267.0,228.8 L1267.0,232.5 L1267.5,246.2 L1272.0,257.5 L1268.8,265.0 L1276.2,271.2 L1275.8,280.0 L1268.8,286.2 L1263.0,300.0 L1263.0,308.8 L1268.8,311.2 L1275.0,299.5 L1285.0,299.5 L1287.0,308.8 L1295.0,312.0 L1296.2,325.0 L1292.5,425.0 L1291.2,452.5 L1294.5,464.5 L1250.0,586.2 L1253.0,596.2 L1251.2,625.0 L1241.2,740.0 L1253.6,751.6 L1207.0,773.6 L1221.6,792.0 L1217.0,801.6 L1204.0,806.0 L1191.0,818.0 L1189.6,825.0 L1185.6,824.0 L1186.0,828.0 L1182.0,831.0 L1170.0,834.0 L1166.0,838.0 L1160.0,846.0 L1154.0,849.0 L1153.6,840.0 L1173.0,807.0 L1175.6,792.0 L1026.2,726.2 L1026.2,721.2 L1018.8,711.2 L1015.0,715.0 L1005.0,712.5 L991.2,711.2 L981.0,702.0 L972.5,704.5 L969.0,694.0 L954.5,678.8 L960.0,672.0 L954.5,662.0 L958.8,658.8 L958.0,650.0 L948.0,648.0 L953.0,643.0 L942.5,632.0 L933.8,630.0 L926.2,632.5 L920.0,630.0 L915.0,620.0 L908.8,616.2 L905.0,608.8 L896.2,605.0 Z"/>
</g>
<g fill="none" stroke="#000" stroke-width="1.9" stroke-linejoin="round" stroke-linecap="round">
<path d="M1150.0,864.0 L1156.0,852.0 L1162.0,845.0 L1169.0,836.0 L1177.0,834.4 L1182.0,836.4 L1188.0,831.0 L1196.0,833.0 L1203.0,836.0 L1200.0,824.0 L1208.0,827.0 L1207.0,819.6 L1212.0,818.0 L1220.0,825.0 L1221.0,816.0 L1226.0,811.0 L1243.0,807.6 L1247.0,812.0 L1240.0,814.0 L1252.0,813.6 L1249.0,805.0 L1260.0,805.0 L1261.0,811.0 L1272.0,811.0 L1268.0,802.0 L1280.0,807.0 L1282.0,805.0 L1300.0,811.0 L1315.0,805.0 L1315.0,798.4 L1327.0,798.4 L1327.0,800.0 L1350.0,799.0 L1380.0,798.5 L1393.8,798.5 L1407.5,796.4 L1421.3,791.6 L1431.0,786.1 L1440.6,782.7 L1447.5,776.5 L1454.4,776.5 L1466.8,766.8 L1488.1,764.1 L1466.8,767.5 L1462.6,771.7 L1458.5,777.9 L1450.2,783.4 L1455.1,786.1 L1448.2,786.8 L1450.2,795.1 L1440.6,791.6 L1440.6,795.1 L1435.1,795.5 L1422.7,803.3 L1412.4,807.5 L1421.3,810.9 L1425.5,807.5 L1431.0,810.9 L1444.7,810.9 L1449.6,802.0 L1454.4,801.3 L1459.2,795.1 L1469.5,792.3 L1481.9,792.3 L1483.3,786.8 L1495.7,786.1 L1500.5,782.7 L1513.6,795.8 L1520.5,788.9 L1528.8,788.9 L1533.6,783.4 L1541.2,783.4 L1541.8,779.9 L1547.4,776.5 L1560.4,779.9 L1513.6,797.1 L1476.4,810.2 L1448.9,821.2 L1450.2,814.4 L1436.5,814.4 L1435.1,820.6 L1425.5,822.6 L1421.3,826.0 L1408.2,826.7 L1407.5,830.2 L1389.6,830.2 L1388.3,833.0 L1379.0,834.0 L1378.0,836.0 L1370.0,841.0 L1360.0,839.6 L1356.0,842.0 L1345.0,840.0 L1336.0,843.0 L1324.0,845.0 L1315.0,848.0 L1308.0,846.0 L1300.0,847.0 L1270.0,858.0 L1240.0,862.0 L1238.0,864.0 L1220.0,867.0 L1218.0,865.0 L1215.0,867.0 L1203.0,867.0 L1193.0,860.0 L1186.0,858.0 L1180.0,860.0 L1179.0,863.0 L1174.0,868.0 L1173.0,871.0 L1154.0,873.6 L1154.0,869.0 Z"/>
<path d="M1111.0,879.0 L1119.0,875.0 L1120.0,869.0 L1125.0,862.0 L1130.0,860.0 L1139.0,861.0 L1147.0,868.0 L1132.0,880.0 L1112.0,886.4 Z"/>
<path d="M1459.9,780.6 L1468.2,773.7 L1475.0,776.5 L1477.8,786.1 L1470.9,782.7 L1462.6,782.7 Z"/>
<path d="M1524.6,745.5 L1528.8,742.0 L1543.9,739.0 L1531.5,745.5 Z"/>
<path d="M752.5,177.5 L770.0,173.8 L765.0,180.0 L757.5,183.8 L752.5,178.8 Z"/>
<path d="M1168.0,877.0 L1192.0,870.0 L1202.0,866.0"/>
<path d="M1206.0,870.0 L1240.0,870.0 L1270.0,863.0 L1296.0,857.6"/>
<path d="M1286.0,864.0 L1310.0,860.0 L1360.0,845.0 L1390.0,835.0 L1421.3,827.4 L1448.9,821.2 L1476.4,810.2 L1513.6,797.1 L1560.4,779.9"/>
<path d="M1468.2,786.1 L1471.6,791.6"/>
<path d="M1156.0,892.0 L1157.0,896.0"/>
</g>
<rect x="1336" y="130" width="91" height="478.5" fill="url(#cb)"/>
<text x="1474.2" y="144.9" font-size="27" text-anchor="middle" fill="#000">20</text>
<text x="1474.2" y="191.8" font-size="27" text-anchor="middle" fill="#000">16</text>
<text x="1474.2" y="238.8" font-size="27" text-anchor="middle" fill="#000">12</text>
<text x="1474.2" y="285.7" font-size="27" text-anchor="middle" fill="#000">8</text>
<text x="1474.2" y="332.6" font-size="27" text-anchor="middle" fill="#000">4</text>
<text x="1474.2" y="379.6" font-size="27" text-anchor="middle" fill="#000">0</text>
<text x="1474.2" y="426.5" font-size="27" text-anchor="middle" fill="#000">-4</text>
<text x="1474.2" y="473.4" font-size="27" text-anchor="middle" fill="#000">-8</text>
<text x="1474.2" y="520.3" font-size="27" text-anchor="middle" fill="#000">-12</text>
<text x="1474.2" y="567.3" font-size="27" text-anchor="middle" fill="#000">-16</text>
<text x="1474.2" y="614.2" font-size="27" text-anchor="middle" fill="#000">-20</text>
<text x="46.6" y="676" font-size="39.85" fill="#000">24 Hour 5-50 cm Temperature Percentile Change</text>
<text x="46.6" y="746.6" font-size="33.05" fill="#000">Figure created on Thu, 2025-12-11, at 12:06 UTC</text>
<text x="46.6" y="798" font-size="33.05" fill="#000">Station Count: 112 Stations Used</text>
<text x="46.7" y="865.3" font-size="24.13" fill="#000">Past 3 Years Considered. Percentiles Contoured: -40%, -25%, -10%, -5%, +5%, +10%, +25%, +40%</text>
<path d="M175.0,51.2 L211.0,50.1 L211.5,62.5 L213.2,68.1 L212.1,77.1 L211.0,85.0 L212.7,92.9 L211.5,98.5 L213.8,97.9 L215.5,100.7 L216.1,125.0 L211.3,151.1 L210.6,180.0 L211.9,181.4 L207.1,184.8 L207.1,189.6 L207.6,193.4 L218.8,189.6 L232.6,187.6 L242.2,182.8 L251.8,176.6 L249.0,181.0 L254.6,184.1 L238.1,191.0 L224.3,196.5 L211.9,200.0 L200.9,201.3 L196.8,204.1 L193.4,205.5 L198.2,200.0 L199.6,196.5 L201.6,192.4 L202.3,187.6 L191.3,182.8 L177.6,173.8 L173.4,171.8 L171.4,167.6 L170.0,160.8 L165.9,158.7 L165.2,156.6 L162.4,154.6 L50.3,152.5 L50.3,143.6 L60.6,136.7 L67.5,133.3 L71.6,127.8 L73.7,126.6 L72.1,121.0 L73.7,117.6 L69.5,116.5 L70.4,109.2 L85.0,106.4 L100.7,107.5 L107.5,111.4 L116.5,110.3 L123.2,110.9 L130.0,107.5 L135.6,103.0 L141.2,101.3 L142.4,97.4 L141.2,92.9 L139.0,89.5 L141.2,85.0 L137.9,82.7 L139.0,79.4 L145.7,74.9 L151.4,72.1 L151.9,69.2 L157.0,63.6 L164.9,56.9 Z" fill="#efab00"/>
<text x="134.6" y="146.3" font-size="51" font-weight="bold" fill="#fff" stroke="#fff" stroke-width="3.2" stroke-linejoin="miter" textLength="69" lengthAdjust="spacingAndGlyphs">NYS</text>
<text x="220" y="146.3" font-size="51" font-weight="bold" fill="#512a6e" stroke="#512a6e" stroke-width="3" stroke-linejoin="miter" textLength="167.5" lengthAdjust="spacingAndGlyphs">Mesonet</text>
<g transform="translate(221.8 168.7) scale(0.72 1)"><text x="0" y="0" font-size="17.2" font-weight="bold" fill="#512a6e" letter-spacing="1.9" textLength="232.5" lengthAdjust="spacing">UNIVERSITY AT ALBANY</text></g>
</svg></body></html>
